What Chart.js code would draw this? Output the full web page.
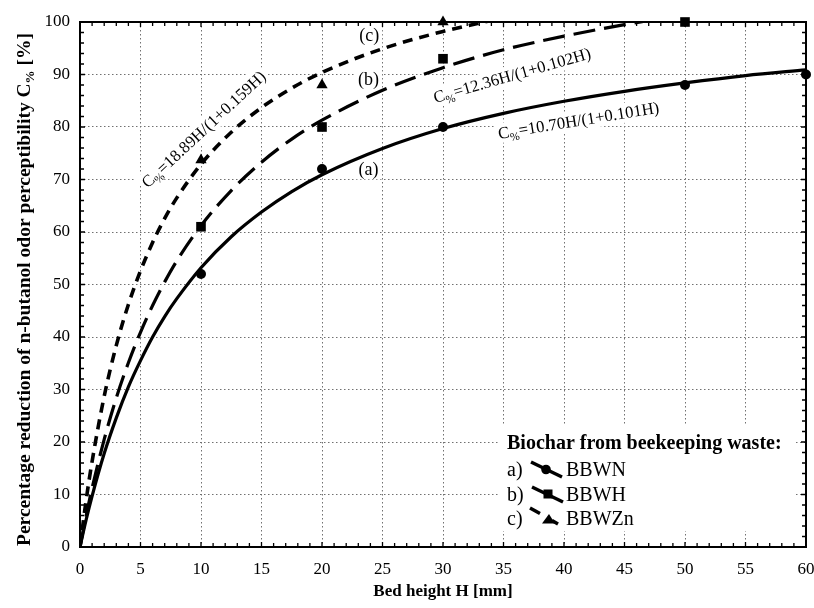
<!DOCTYPE html>
<html>
<head>
<meta charset="utf-8">
<script src="https://cdn.jsdelivr.net/npm/chart.js@4.4.1/dist/chart.umd.min.js"></script>
<style>
  html, body { margin: 0; padding: 0; background: #fff; }
  #wrap { width: 814px; height: 608px; }
</style>
</head>
<body>
<div id="wrap"><canvas id="c" width="814" height="608"></canvas></div>
<script>
// ---------- data ----------
const xTicks = [0, 5, 10, 15, 20, 25, 30, 35, 40, 45, 50, 55, 60];
const yTicks = [0, 10, 20, 30, 40, 50, 60, 70, 80, 90, 100];

// measured points
const hBBWN  = [10, 20, 30, 50, 60];
const vBBWN  = [52, 72, 80, 88, 90];
const hBBWH  = [10, 20, 30, 50];
const vBBWH  = [61, 80, 93, 100];
const hBBWZn = [10, 20, 30];
const vBBWZn = [73.7, 88, 100];

// fitted curves
const curveHa = [0, 0.5, 1, 2, 3, 4, 5, 6, 7, 8, 10, 12.5, 15, 17.5, 20, 25, 30, 35, 40, 45, 50, 55, 60];
const curveA  = [0, 5.1, 9.7, 17.8, 24.6, 30.5, 35.5, 40.0, 43.9, 47.3, 53.2, 59.1, 63.8, 67.7, 70.9, 75.9, 79.7, 82.6, 84.9, 86.8, 88.4, 89.8, 90.9];
const curveHb = [0, 0.5, 1, 2, 3, 4, 5, 6, 7, 8, 10, 12.5, 15, 17.5, 20, 25, 30, 35, 40, 45, 47];
const curveB  = [0, 5.9, 11.2, 20.5, 28.4, 35.1, 40.9, 46.0, 50.5, 54.5, 61.2, 67.9, 73.3, 77.7, 81.3, 87.0, 91.3, 94.7, 97.3, 99.5, 100.3];
const curveHc = [0, 0.5, 1, 2, 3, 4, 5, 6, 7, 8, 10, 12.5, 15, 17.5, 20, 25, 30, 34];
const curveC  = [0, 8.8, 16.3, 28.7, 38.4, 46.2, 52.6, 58.0, 62.6, 66.5, 72.9, 79.0, 83.7, 87.4, 90.4, 94.9, 98.2, 100.3];

const seriesNames = ['BBWN', 'BBWH', 'BBWZn'];
const legendTitle = 'Biochar from beekeeping waste:';
const xTitle = 'Bed height H [mm]';
const yTitleMain = 'Percentage reduction of n-butanol odor perceptibility C';
const yTitleEnd = ' [%]';

// text annotations
const curveLabels = [
  { x: 23.9, y: 97.5, a: 0, plain: '(c)' },
  { x: 23.85, y: 89.2, a: 0, plain: '(b)' },
  { x: 23.85, y: 72.1, a: 0, plain: '(a)' },
  { x: 10.2, y: 79.6, a: -43, eq: '=18.89H/(1+0.159H)' },
  { x: 35.7, y: 89.9, a: -16, eq: '=12.36H/(1+0.102H)' },
  { x: 41.2, y: 81.3, a: -9.3, eq: '=10.70H/(1+0.101H)' }
];

// ---------- helpers ----------
const SERIF = '"Liberation Serif", "Times New Roman", serif';
function zip(xs, ys) { return xs.map((x, i) => ({ x: x, y: ys[i] })); }

function richParts(lbl) {
  if (lbl.plain) return [{ t: lbl.plain, size: 18, dy: 0 }];
  return [{ t: 'C', size: 16.7, dy: 0 }, { t: '%', size: 11.5, dy: 4 }, { t: lbl.eq, size: 16.7, dy: 0 }];
}
function partsWidth(ctx, parts, bold) {
  let w = 0;
  parts.forEach(p => { ctx.font = (bold ? 'bold ' : '') + p.size + 'px ' + SERIF; p.w = ctx.measureText(p.t).width; w += p.w; });
  return w;
}
function drawParts(ctx, parts, cx, cy, angleDeg, bold, bg) {
  ctx.save();
  const w = partsWidth(ctx, parts, bold);
  const size = parts[0].size;
  ctx.translate(cx, cy);
  ctx.rotate(angleDeg * Math.PI / 180);
  if (bg) {
    ctx.fillStyle = '#fff';
    ctx.fillRect(-w / 2 - 3, -size * 0.6, w + 6, size * 1.2);
  } else {
    ctx.fillStyle = '#000';
    ctx.textBaseline = 'alphabetic';
    ctx.textAlign = 'left';
    let x = -w / 2;
    parts.forEach(p => {
      ctx.font = (bold ? 'bold ' : '') + p.size + 'px ' + SERIF;
      ctx.fillText(p.t, x, size * 0.34 + p.dy);
      x += p.w;
    });
  }
  ctx.restore();
}

const decorPlugin = {
  id: 'decor',
  beforeDatasetsDraw(chart) {
    const ctx = chart.ctx, xs = chart.scales.x, ys = chart.scales.y;
    curveLabels.forEach(l => drawParts(ctx, richParts(l), xs.getPixelForValue(l.x), ys.getPixelForValue(l.y), l.a, false, true));
    ctx.save();
    ctx.fillStyle = '#fff';
    ctx.fillRect(500, 426, 296, 105);
    ctx.restore();
  },
  afterDatasetDraw(chart, args) {
    // frame drawn after curves (index 2), before markers so markers sit on top
    if (args.index !== 2) return;
    const ctx = chart.ctx, a = chart.chartArea, xs = chart.scales.x, ys = chart.scales.y;
    ctx.save();
    ctx.strokeStyle = '#000';
    ctx.lineWidth = 1.3;
    ctx.beginPath();
    for (let v = 1; v < 60; v++) {
      const px = xs.getPixelForValue(v);
      const L = (v % 5 === 0) ? 5 : 4;
      ctx.moveTo(px, a.bottom); ctx.lineTo(px, a.bottom - L);
      ctx.moveTo(px, a.top); ctx.lineTo(px, a.top + L);
    }
    for (let v = 2; v < 100; v += 2) {
      const py = ys.getPixelForValue(v);
      const L = (v % 10 === 0) ? 5 : 4;
      ctx.moveTo(a.left, py); ctx.lineTo(a.left + L, py);
      ctx.moveTo(a.right, py); ctx.lineTo(a.right - L, py);
    }
    ctx.stroke();
    ctx.lineWidth = 2;
    ctx.strokeRect(a.left, a.top, a.right - a.left, a.bottom - a.top);
    ctx.restore();
  },
  afterDraw(chart) {
    const ctx = chart.ctx, a = chart.chartArea, xs = chart.scales.x, ys = chart.scales.y;
    curveLabels.forEach(l => drawParts(ctx, richParts(l), xs.getPixelForValue(l.x), ys.getPixelForValue(l.y), l.a, false, false));

    // axis titles
    drawParts(ctx, [{ t: xTitle, size: 17, dy: 0 }], (a.left + a.right) / 2, 590, 0, true, false);
    drawParts(ctx, [{ t: yTitleMain, size: 19.5, dy: 0 }, { t: '%', size: 13, dy: 4 }, { t: yTitleEnd, size: 19.5, dy: 0 }],
      23, (a.top + a.bottom) / 2 + 5, -90, true, false);

    // legend
    ctx.save();
    ctx.fillStyle = '#000';
    ctx.textBaseline = 'alphabetic';
    ctx.textAlign = 'left';
    ctx.font = 'bold 20px ' + SERIF;
    ctx.fillText(legendTitle, 507, 449);
    ctx.font = '20px ' + SERIF;
    const rows = [476, 500.5, 525];
    const tags = ['a)', 'b)', 'c)'];
    rows.forEach((b, i) => {
      ctx.fillText(tags[i], 507, b);
      ctx.fillText(seriesNames[i], 566, b);
    });
    ctx.strokeStyle = '#000';
    ctx.lineWidth = 3.5;
    ctx.lineCap = 'butt';
    ctx.beginPath(); ctx.moveTo(531, 462); ctx.lineTo(562, 477); ctx.stroke();
    ctx.beginPath(); ctx.arc(546, 469.5, 4.8, 0, Math.PI * 2); ctx.fill();
    ctx.beginPath(); ctx.moveTo(532, 487); ctx.lineTo(563, 502); ctx.stroke();
    ctx.fillRect(543.5, 489.5, 9, 9);
    ctx.beginPath(); ctx.moveTo(530, 508); ctx.lineTo(540, 513.5); ctx.stroke();
    ctx.beginPath(); ctx.moveTo(552, 520.5); ctx.lineTo(558, 524); ctx.stroke();
    ctx.beginPath(); ctx.moveTo(549, 514); ctx.lineTo(555, 523.5); ctx.lineTo(542, 523.5); ctx.closePath(); ctx.fill();
    ctx.restore();
  }
};

const curveStyle = { showLine: true, pointRadius: 0, borderColor: '#000', fill: false, cubicInterpolationMode: 'monotone', clip: 0, borderCapStyle: 'butt' };
const markStyle = { showLine: false, borderColor: '#000', backgroundColor: '#000', clip: false, borderWidth: 0 };

new Chart(document.getElementById('c'), {
  type: 'scatter',
  data: {
    datasets: [
      Object.assign({ label: 'curve a', data: zip(curveHa, curveA), borderWidth: 3.2, order: 6 }, curveStyle),
      Object.assign({ label: 'curve b', data: zip(curveHb, curveB), borderWidth: 3.2, borderDash: [22, 9], order: 5 }, curveStyle),
      Object.assign({ label: 'curve c', data: zip(curveHc, curveC), borderWidth: 3.6, borderDash: [10, 7], order: 4 }, curveStyle),
      Object.assign({ label: seriesNames[0], data: zip(hBBWN, vBBWN), pointStyle: 'circle', pointRadius: 5, order: 3 }, markStyle),
      Object.assign({ label: seriesNames[1], data: zip(hBBWH, vBBWH), pointStyle: 'rect', pointRadius: 6.8, order: 2 }, markStyle),
      Object.assign({ label: seriesNames[2], data: zip(hBBWZn, vBBWZn), pointStyle: 'triangle', pointRadius: 6.5, order: 1 }, markStyle)
    ]
  },
  options: {
    responsive: false,
    animation: false,
    devicePixelRatio: 1,
    layout: { padding: { left: 0, top: 22, right: 8, bottom: 0 } },
    plugins: { legend: { display: false }, tooltip: { enabled: false } },
    scales: {
      x: {
        type: 'linear', min: 0, max: 60,
        afterFit(s) { s.height = 61; s.paddingLeft = 0; s.paddingRight = 0; },
        afterBuildTicks(s) { s.ticks = xTicks.map(v => ({ value: v })); },
        ticks: { font: { family: SERIF, size: 17 }, color: '#000', padding: 12, maxRotation: 0, autoSkip: false },
        grid: { color: '#707070', lineWidth: 1, drawTicks: false },
        border: { display: false, dash: [1.5, 2.5] }
      },
      y: {
        type: 'linear', min: 0, max: 100,
        afterFit(s) { s.width = 80; s.paddingTop = 0; s.paddingBottom = 0; },
        afterBuildTicks(s) { s.ticks = yTicks.map(v => ({ value: v })); },
        ticks: { font: { family: SERIF, size: 17 }, color: '#000', padding: 10, autoSkip: false },
        grid: { color: '#707070', lineWidth: 1, drawTicks: false },
        border: { display: false, dash: [1.5, 2.5] }
      }
    }
  },
  plugins: [decorPlugin]
});
</script>
</body>
</html>
